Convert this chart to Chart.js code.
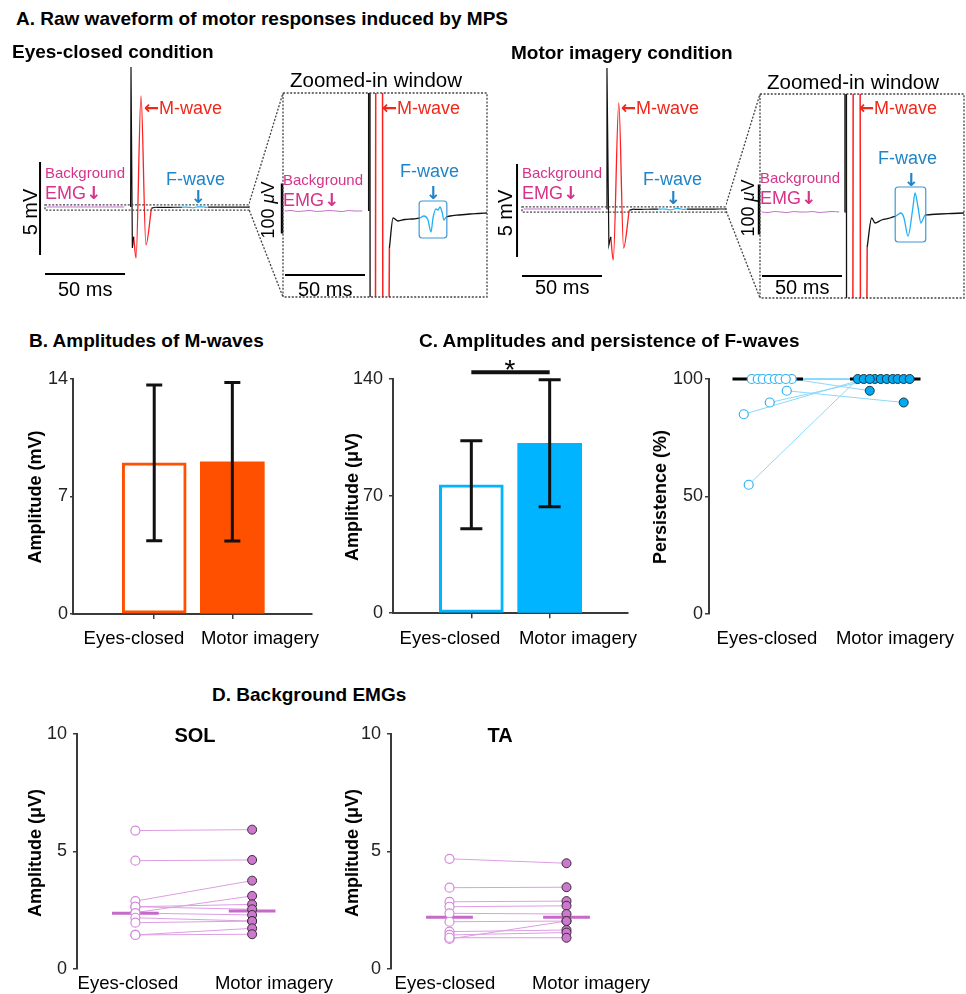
<!DOCTYPE html>
<html><head><meta charset="utf-8"><title>MPS figure</title>
<script src="https://cdn.jsdelivr.net/npm/chart.js@4.4.1/dist/chart.umd.min.js"></script>
<style>
html,body{margin:0;padding:0;background:#fff;}
#page{position:relative;width:966px;height:994px;overflow:hidden;background:#fff;font-family:"Liberation Sans",Arial,Helvetica,sans-serif;color:#000;}
#page canvas{position:absolute;}
.t{position:absolute;white-space:nowrap;line-height:1;}
.ar{font-family:"DejaVu Sans",sans-serif;font-weight:bold;}
</style></head><body><div id="page"></div>
<script>
// ================= DATA =================
const conditions = ['Eyes-closed', 'Motor imagery'];

// Panel A: single raw traces (time in ms from window start, amplitude in µV)
// Eyes-closed condition
const ecBgT    = [1, 5, 9, 13, 17, 21, 25, 29, 33, 37, 41, 45, 49.5];
const ecBgUv   = [0, 1, -1, 0, 1, -1, 0, 1, 0, -1, 1, 0, 0];
const ecStimT  = [53.5, 53.75, 54.6, 55.4];
const ecStimUv = [0, 7530, -2200, -1600];
const ecMT     = [55.4, 56.9, 60.0, 63.1, 66.5];
const ecMUv    = [-1600, -2740, 5970, -2040, -74];
const ecPostT  = [66.5, 68.8, 71.9, 76, 81, 85.6];
const ecPostUv = [-74, -14, -20, -17, -16, -14];
const ecFT     = [85.6, 88.1, 90.6, 92.5, 93.75, 95.6, 96.9, 98.1, 99.4, 100.6, 101.9];
const ecFUv    = [-14, -10, -18, -42, -14, 4, 2, 8, -2, -18, -12];
const ecLateT  = [101.9, 104.4, 110, 116.9, 122, 127.5];
const ecLateUv = [-12, -10, -8, -6, -5, -4];
// Motor imagery condition
const miBgT    = [1, 5, 9, 13, 17, 21, 25, 29, 33, 37, 41, 45, 49.5];
const miBgUv   = [0, -1, 1, 0, -1, 1, 0, 0, 1, -1, 0, 1, 0];
const miStimT  = [52.9, 53.1, 54.3, 55.5];
const miStimUv = [0, 7580, -1940, -1500];
const miMT     = [55.5, 57.0, 60.5, 63.5, 67.0];
const miMUv    = [-1500, -2740, 5700, -2100, -70];
const miPostT  = [67.0, 69.8, 71.9, 76, 81.25, 85];
const miPostUv = [-70, -12, -22, -16, -12, -8];
const miFT     = [85, 88.1, 90, 92.5, 95.6, 96.9, 98.75, 100.6, 101.9, 103.1];
const miFUv    = [-8, -2, -12, -48, 10, 38, 10, -22, -14, -6];
const miLateT  = [103.1, 107, 112.5, 120, 127.5];
const miLateUv = [-6, -5, -4, -3, -2];
// scale bars
const barMainUv = 5000, barMainLabel = '5 mV';
const barTimeMs = 50,   barTimeLabel = '50 ms';
const barZoomUv = 100;

// Panel B: M-wave amplitude (mV), mean and SD
const mWaveMean = [9.01, 9.07];
const mWaveSd   = [4.64, 4.72];
const bTicks    = [0, 7, 14];

// Panel C: F-wave amplitude (µV), mean and SD
const fWaveMean = [76.8, 101.6];
const fWaveSd   = [26.3, 38.0];
const fWaveSigLevel = 144.1;
const fWaveSigMark  = '*';
const cTicks    = [0, 70, 140];

// Panel C: F-wave persistence (%), per participant
const persEc     = [55, 85, 90, 95, 100, 100, 100, 100, 100, 100, 100, 100];
const persMi     = [100, 100, 100, 90, 95, 100, 100, 100, 100, 100, 100, 100];
const persEcJit  = [-0.162, -0.204, 0.017, 0.162, 0.204, -0.136, -0.085, -0.043, 0.009, 0.06, 0.10, 0.153];
const persMiJit  = [-0.234, -0.183, -0.089, 0.157, -0.132, -0.038, 0.013, 0.064, 0.106, 0.157, 0.208, -0.132];
const persCenter = [100, 100];
const pTicks     = [0, 50, 100];

// Panel D: background EMG (µV), per participant
const solEc     = [5.89, 4.61, 2.89, 2.40, 2.65, 2.65, 2.38, 2.18, 1.97, 1.45, 1.45];
const solMi     = [5.93, 4.64, 3.76, 3.11, 2.75, 2.54, 2.30, 2.04, 2.04, 1.73, 1.48];
const solCenter = [2.37, 2.47];
const taEc      = [4.69, 3.46, 2.86, 2.65, 2.37, 2.01, 1.59, 1.45, 1.28, 1.33];
const taMi      = [4.50, 3.48, 2.89, 2.69, 2.34, 2.04, 1.66, 1.55, 2.04, 1.33];
const taCenter  = [2.20, 2.20];
const dTicks    = [0, 5, 10];

// ================= RENDERING =================
const FONT = '"Liberation Sans", Arial, Helvetica, sans-serif';
Chart.defaults.font.family = FONT;
Chart.defaults.animation = false;
Chart.defaults.responsive = false;
Chart.defaults.devicePixelRatio = 1;
Chart.defaults.plugins.legend.display = false;
Chart.defaults.plugins.tooltip.enabled = false;
const AX = '#3a3a3a';
const page = document.getElementById('page');

function cv(l, t, w, h) {
  const c = document.createElement('canvas');
  c.width = w; c.height = h;
  c.style.left = l + 'px'; c.style.top = t + 'px';
  c.style.width = w + 'px'; c.style.height = h + 'px';
  page.appendChild(c); return c;
}
function T(html, x, y, o = {}) {
  const d = document.createElement('div'); d.className = 't';
  d.innerHTML = html;
  d.style.left = x + 'px'; d.style.top = y + 'px';
  d.style.fontSize = (o.s || 18) + 'px';
  d.style.fontWeight = o.b ? 'bold' : 'normal';
  d.style.color = o.c || '#000';
  const tx = o.a === 'c' ? '-50%' : '0';
  d.style.transform = 'translate(' + tx + ',-50%)' + (o.r ? ' rotate(-90deg)' : '');
  page.appendChild(d); return d;
}
const pts = (T_, V) => T_.map((t, i) => ({x: t, y: V[i]}));

// ---------- Panel A ----------
const C_BG = '#c070c8', C_M = '#ff1f1f', C_F = '#1fb0f5', C_K = '#111';
const decor = {
  id: 'decor',
  afterDatasetsDraw(chart, args, o) {
    const {ctx, chartArea: ca, scales: {x, y}} = chart;
    const X = v => x.getPixelForValue(v), Y = v => y.getPixelForValue(v);
    const seg = (x1, y1, x2, y2) => { ctx.beginPath(); ctx.moveTo(x1, y1); ctx.lineTo(x2, y2); ctx.stroke(); };
    ctx.save(); ctx.lineCap = 'butt'; ctx.strokeStyle = '#000';
    if (o.vBar) { ctx.lineWidth = o.vBar.w; seg(X(o.vBar.t), Y(o.vBar.v0), X(o.vBar.t), Y(o.vBar.v0 + o.vBar.len)); }
    if (o.hBar) { ctx.lineWidth = 2; seg(X(o.hBar.t0), Y(o.hBar.v), X(o.hBar.t0 + o.hBar.len), Y(o.hBar.v)); }
    ctx.setLineDash([2, 1.6]); ctx.strokeStyle = '#444'; ctx.lineWidth = 1.3;
    if (o.box) { const l = X(o.box.t0), r = X(o.box.t1), t = Y(o.box.v1), b = Y(o.box.v0); ctx.strokeRect(l, t, r - l, b - t); }
    if (o.frame) {
      ctx.strokeRect(ca.left, ca.top, ca.width, ca.height);
      const sx = ca.left - o.frame.gap, sy = Y(0) + o.frame.dy;
      seg(sx, sy, ca.left, ca.top); seg(sx, sy, ca.left, ca.bottom);
    }
    ctx.setLineDash([]);
    if (o.fbox) {
      const F = chart.data.datasets[o.fbox.index].data;
      const ts = F.map(p => p.x), vs = F.map(p => p.y);
      const l = X(Math.min(...ts) - 0.5), r = X(Math.max(...ts) + 0.5);
      const t = Y(Math.max(...vs) + 12), b = Y(Math.min(...vs) - 12);
      ctx.strokeStyle = '#3d9ad6'; ctx.lineWidth = 1.2; ctx.beginPath();
      if (ctx.roundRect) ctx.roundRect(l, t, r - l, b - t, 3); else ctx.rect(l, t, r - l, b - t);
      ctx.stroke();
    }
    ctx.restore();
  }
};
function traceSets(c, zoom) {
  const w = zoom ? 1.3 : 1.2;
  const s = (T_, V, col, mono, bw) => ({data: pts(T_, V), borderColor: col, borderWidth: bw || w, pointRadius: 0, fill: false,
    tension: 0, cubicInterpolationMode: mono ? 'monotone' : 'default'});
  return [
    s(c.bgT, c.bgUv, C_BG, true, 1),
    s(c.stT, c.stUv, C_K, false),
    s(c.mT, c.mUv, C_M, !zoom, zoom ? 1.5 : 1.3),
    s(c.poT, c.poUv, C_K, true),
    s(c.fT, c.fUv, C_F, true),
    s(c.laT, c.laUv, C_K, true)
  ];
}
function waveChart(canvas, c, o) {
  return new Chart(canvas, {
    type: 'line',
    data: {datasets: traceSets(c, o.zoom)},
    options: {
      layout: {padding: o.pad},
      scales: {x: {type: 'linear', display: false, min: 0, max: 127.5},
               y: {type: 'linear', display: false, min: o.yMin, max: o.yMax}},
      plugins: {decor: o.decor}
    },
    plugins: [decor]
  });
}
const ecTr = {bgT: ecBgT, bgUv: ecBgUv, stT: ecStimT, stUv: ecStimUv, mT: ecMT, mUv: ecMUv, poT: ecPostT, poUv: ecPostUv, fT: ecFT, fUv: ecFUv, laT: ecLateT, laUv: ecLateUv};
const miTr = {bgT: miBgT, bgUv: miBgUv, stT: miStimT, stUv: miStimUv, mT: miMT, mUv: miMUv, poT: miPostT, poUv: miPostUv, fT: miFT, fUv: miFUv, laT: miLateT, laUv: miLateUv};

[[ecTr, 0, 60, 91], [miTr, 477, 62, 92]].forEach(([tr, dx, mainTop, zoomTop]) => {
  waveChart(cv(dx, mainTop, 250, 240), tr, {
    zoom: false, pad: {left: 45, right: 1, top: 0, bottom: 0}, yMin: -5000, yMax: 7900,
    decor: {vBar: {t: -3.1, v0: -2580, len: barMainUv, w: 2}, hBar: {t0: 0, len: barTimeMs, v: -3600},
            box: {t0: 0, t1: 127.5, v0: -165, v1: 115}}
  });
  waveChart(cv(dx + 249, zoomTop, 240, 208), tr, {
    zoom: true, pad: {left: 34, right: 2, top: 2, bottom: 2}, yMin: -172, yMax: 236,
    decor: {vBar: {t: -0.6, v0: -45, len: barZoomUv, w: 2.5}, hBar: {t0: 1.25, len: barTimeMs, v: -128},
            frame: {gap: 35, dy: -4}, fbox: {index: 4}}
  });
});

// ---------- axis helpers ----------
function yAx(min, max, ticks, width, tl, pad) {
  return {
    type: 'linear', position: 'left', min, max,
    afterBuildTicks: s => { s.ticks = ticks.map(v => ({value: v})); },
    afterFit: s => { s.width = width; },
    grid: {display: true, drawOnChartArea: false, drawTicks: true, tickLength: tl, color: AX, lineWidth: 1.5},
    border: {display: true, color: AX, width: 2},
    ticks: {color: '#222', font: {size: 18, family: FONT}, padding: pad}
  };
}

// ---------- Panels B & C-left: bar charts with SD ----------
const errPlugin = {
  id: 'errBars',
  afterDatasetsDraw(chart, args, o) {
    const {ctx, scales: {x, y}} = chart;
    ctx.save(); ctx.strokeStyle = '#111'; ctx.lineWidth = 3; ctx.lineCap = 'butt';
    chart.data.datasets[0].data.forEach((d, i) => {
      const px = x.getPixelForValue(d.x), top = y.getPixelForValue(d.y + o.sd[i]), bot = y.getPixelForValue(d.y - o.sd[i]);
      ctx.beginPath();
      ctx.moveTo(px, top); ctx.lineTo(px, bot);
      ctx.moveTo(px - o.cap / 2, top); ctx.lineTo(px + o.cap / 2, top);
      ctx.moveTo(px - o.cap / 2, bot); ctx.lineTo(px + o.cap / 2, bot);
      ctx.stroke();
    });
    if (o.sig) {
      const yy = y.getPixelForValue(o.sig.level);
      ctx.lineWidth = 4; ctx.beginPath();
      ctx.moveTo(x.getPixelForValue(1), yy); ctx.lineTo(x.getPixelForValue(2), yy); ctx.stroke();
    }
    ctx.restore();
  }
};
function barChart(canvas, mean, sd, col, xr, yMin, yMax, ticks, tl, tp, pad, cap, sig) {
  return new Chart(canvas, {
    type: 'bar',
    data: {datasets: [{data: mean.map((v, i) => ({x: i + 1, y: v})), backgroundColor: ['#ffffff', col], borderColor: col,
      borderWidth: [3, 0], borderSkipped: false, barThickness: 64}]},
    options: {
      layout: {padding: pad},
      scales: {
        x: {type: 'linear', min: xr[0], max: xr[1], offset: false,
            afterBuildTicks: s => { s.ticks = [{value: 1}, {value: 2}]; },
            afterFit: s => { s.height = 6; },
            ticks: {display: false},
            grid: {display: true, offset: false, drawOnChartArea: false, drawTicks: true, tickLength: 5, color: AX, lineWidth: 1.5},
            border: {display: true, color: AX, width: 2}},
        y: yAx(yMin, yMax, ticks, 73, tl, tp)
      },
      plugins: {errBars: {sd, cap, sig}}
    },
    plugins: [errPlugin]
  });
}
barChart(cv(0, 355, 320, 275), mWaveMean, mWaveSd, '#ff5000', [-0.04, 3.02], 0, 14, bTicks, 3, 2,
  {left: 0, right: 8, top: 24, bottom: 10}, 16, null);
barChart(cv(320, 345, 316, 285), fWaveMean, fWaveSd, '#00b4ff', [0, 3], 0, 140, cTicks, 4, 6,
  {left: 0, right: 8, top: 34, bottom: 10}, 22, {level: fWaveSigLevel});

// ---------- paired dot plots ----------
function pairChart(canvas, ec, mi, ecJit, miJit, center, halfW, yMin, yMax, ticks, yW, tp, pad, col) {
  const sets = [];
  ec.forEach((v, i) => sets.push({type: 'line', data: [{x: 1 + ecJit[i], y: v}, {x: 2 + miJit[i], y: mi[i]}],
    borderColor: col.line, borderWidth: 1, pointRadius: 0, clip: false, order: 3}));
  center.forEach((c, k) => sets.push({type: 'line', data: [{x: k + 1 - halfW, y: c}, {x: k + 1 + halfW, y: c}],
    borderColor: col.center, borderWidth: 3, pointRadius: 0, clip: false, order: 2}));
  sets.push({type: 'scatter', data: ec.map((v, i) => ({x: 1 + ecJit[i], y: v})), pointRadius: 4.5,
    backgroundColor: '#ffffff', borderColor: col.ecEdge, borderWidth: 1.2, clip: false, order: 1});
  sets.push({type: 'scatter', data: mi.map((v, i) => ({x: 2 + miJit[i], y: v})), pointRadius: 4.5,
    backgroundColor: col.miFill, borderColor: col.miEdge, borderWidth: 1, clip: false, order: 0});
  return new Chart(canvas, {
    type: 'scatter', data: {datasets: sets},
    options: {layout: {padding: pad},
      scales: {x: {type: 'linear', display: false, min: 0.5, max: 2.5}, y: yAx(yMin, yMax, ticks, yW, 4, tp)}}
  });
}
const zeroJit = a => a.map(() => 0);
const cyanCol = {line: '#8ad8fb', center: '#000000', ecEdge: '#2fb2f2', miFill: '#00aaf0', miEdge: '#1b3344'};
const pinkCol = {line: '#dc9ee2', center: '#c56ac9', ecEdge: '#d48ada', miFill: '#cc78cc', miEdge: '#3b2b3b'};
pairChart(cv(630, 355, 336, 280), persEc, persMi, persEcJit, persMiJit, persCenter, 0.3, 0, 100, pTicks, 79, 2,
  {left: 0, right: 22, top: 24, bottom: 21}, cyanCol);
pairChart(cv(0, 710, 320, 280), solEc, solMi, zeroJit(solEc), zeroJit(solMi), solCenter, 0.2, 0, 10, dTicks, 77, 6,
  {left: 0, right: 9.5, top: 24, bottom: 21}, pinkCol);
pairChart(cv(320, 710, 320, 280), taEc, taMi, zeroJit(taEc), zeroJit(taMi), taCenter, 0.2, 0, 10, dTicks, 71, 6,
  {left: 0, right: 15, top: 24, bottom: 21}, pinkCol);

// ================= TEXT =================
const RED = '#f0281a', PINK = '#d6338a', BLUE = '#1f84c8';
const LA = '<span class="ar">←</span>', DA = '<span class="ar">↓</span>';
T('A. Raw waveform of motor responses induced by MPS', 16, 18, {s: 19, b: true});
T('Eyes-closed condition', 12, 51, {s: 19, b: true});
T('Motor imagery condition', 511, 52, {s: 19, b: true});
[[0, 0], [477, 2]].forEach(([dx, dy]) => {
  T('Zoomed-in window', 290 + dx, 80 + dy, {s: 20.5});
  T(LA + 'M-wave', 144 + dx, 108, {s: 18, c: RED});
  T(LA + 'M-wave', 382 + dx, 108, {s: 18, c: RED});
  T('Background', 45 + dx, 172, {s: 15, c: PINK});
  T('EMG' + DA, 45 + dx, 193, {s: 18, c: PINK});
  T('Background', 283 + dx, 179 - dy, {s: 15, c: PINK});
  T('EMG' + DA, 283 + dx, 200 - dy, {s: 18, c: PINK});
  T(barMainLabel, 30 + dx - (dx ? 2 : 0), 212 + (dx ? 1 : 0), {s: 20, a: 'c', r: true});
  T(barTimeLabel, 58 + dx, 289 - dy, {s: 20});
  T(barTimeLabel, 298 + dx, 289 - dy, {s: 20});
  T('100 <i>μ</i>V', 268 + dx + (dx ? 3 : 0), 210 - dy, {s: 18, a: 'c', r: true});
});
T('F-wave', 166, 179, {s: 18, c: BLUE}); T(DA, 198, 197, {s: 18, c: BLUE, a: 'c'});
T('F-wave', 400, 171, {s: 18, c: BLUE}); T(DA, 433, 193, {s: 18, c: BLUE, a: 'c'});
T('F-wave', 643, 179, {s: 18, c: BLUE}); T(DA, 673, 198, {s: 18, c: BLUE, a: 'c'});
T('F-wave', 878, 158, {s: 18, c: BLUE}); T(DA, 911, 180, {s: 18, c: BLUE, a: 'c'});

T('B. Amplitudes of M-waves', 29, 340, {s: 19, b: true});
T('Amplitude (mV)', 35, 497, {s: 18, b: true, a: 'c', r: true});
T(conditions[0], 134, 638, {s: 18.5, a: 'c'}); T(conditions[1], 260, 638, {s: 18.5, a: 'c'});

T('C. Amplitudes and persistence of F-waves', 419, 340, {s: 19, b: true});
T('Amplitude (μV)', 352, 497, {s: 18, b: true, a: 'c', r: true});
T(fWaveSigMark, 510, 370, {s: 28, a: 'c'});
T(conditions[0], 450, 638, {s: 18.5, a: 'c'}); T(conditions[1], 578, 638, {s: 18.5, a: 'c'});
T('Persistence (%)', 660, 497, {s: 18, b: true, a: 'c', r: true});
T(conditions[0], 767, 638, {s: 18.5, a: 'c'}); T(conditions[1], 895, 638, {s: 18.5, a: 'c'});

T('D. Background EMGs', 212, 694, {s: 19, b: true});
T('SOL', 195, 735, {s: 20, b: true, a: 'c'});
T('TA', 500, 735, {s: 20, b: true, a: 'c'});
T('Amplitude (μV)', 35, 853, {s: 18, b: true, a: 'c', r: true});
T('Amplitude (μV)', 352, 853, {s: 18, b: true, a: 'c', r: true});
T(conditions[0], 128, 983, {s: 18.5, a: 'c'}); T(conditions[1], 274, 983, {s: 18.5, a: 'c'});
T(conditions[0], 445, 983, {s: 18.5, a: 'c'}); T(conditions[1], 591, 983, {s: 18.5, a: 'c'});
</script></body></html>
